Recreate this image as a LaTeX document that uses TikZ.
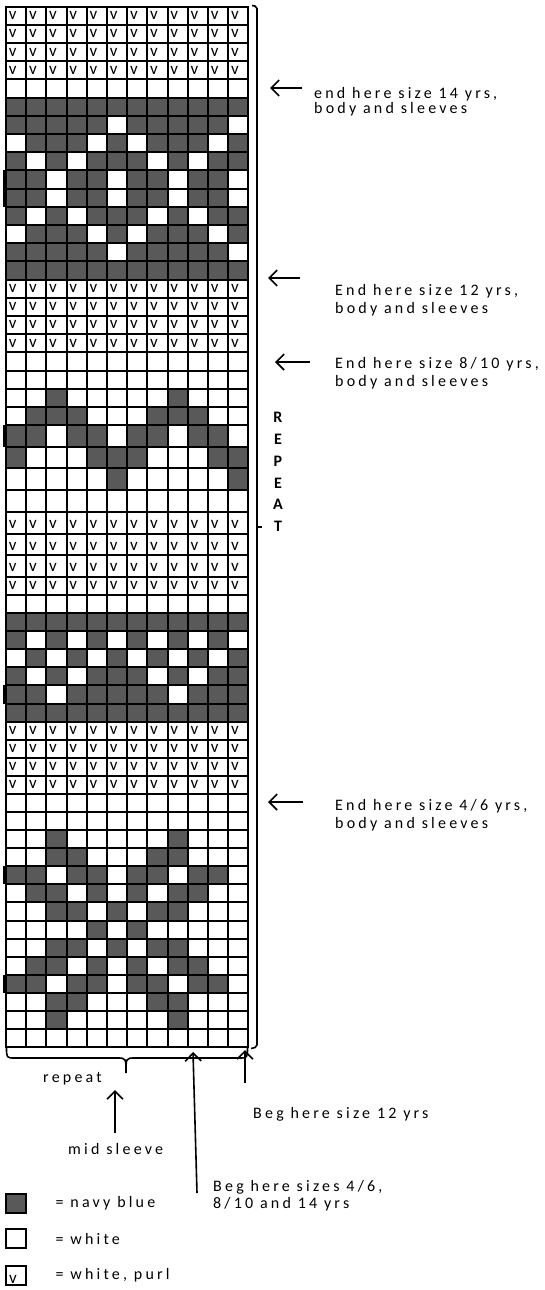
\documentclass[tikz,border=0pt]{standalone}
\usepackage{fontspec}
\setmainfont{Carlito}[LetterSpace=20]
\newfontfamily\stitchfont{Carlito}
\usepackage{tikz}
\usetikzlibrary{arrows.meta,positioning,calc}

\tikzset{
  navy/.style={fill=black!65},
  gridline/.style={line width=2pt,line cap=rect},
  arr/.style={line width=1.6pt,-{Straight Barb[length=8pt,width=16pt]}},
  lbl/.style={anchor=base west,inner sep=0pt,font=\fontsize{16}{18}\selectfont},
  keylbl/.style={inner sep=0pt,font=\fontsize{16}{18}\selectfont},
  purl/.style={anchor=base west,inner sep=0pt,font=\stitchfont\fontsize{17}{17}\selectfont},
  key/.style={draw,line width=2pt,minimum width=20pt,minimum height=19pt,inner sep=0pt},
  declare function={rowy(\r)=(\r<24 ? 6.7+(\r-1)*18.19 : (\r<31 ? 425+(\r-24)*21.71 : 577+(\r-31)*18.08));
    colx(\c)=6+(\c-1)*20.2;}
}

\begin{document}
\begin{tikzpicture}[x=1pt,y=-1pt]
  \useasboundingbox (0,0) rectangle (544,1290);
  % Navy stitches
  \foreach \r/\cs in {6/{1,...,12}, 7/{1,2,3,4,5,7,8,9,10,11}, 8/{2,3,4,6,8,9,10,12},
      9/{1,3,5,6,7,9,11,12}, 10/{1,2,4,5,7,8,10,11}, 11/{1,2,4,5,7,8,10,11},
      12/{1,3,5,6,7,9,11,12}, 13/{2,3,4,6,8,9,10,12}, 14/{1,2,3,4,5,7,8,9,10,11},
      15/{1,...,12}, 22/{3,9}, 23/{2,3,4,8,9,10}, 24/{1,2,4,5,7,8,10,11},
      25/{1,5,6,7,11,12}, 26/{6,12}, 33/{1,...,12}, 34/{1,3,5,7,9,11},
      35/{2,4,6,8,10,12}, 36/{1,3,5,6,7,9,11,12}, 37/{1,2,4,5,6,7,8,10,11,12},
      38/{1,...,12}, 45/{3,9}, 46/{3,4,8,9}, 47/{1,2,4,5,7,8,10,11},
      48/{2,3,5,7,9,10}, 49/{3,4,6,8,9}, 50/{5,7}, 51/{3,4,6,8,9},
      52/{2,3,5,7,9,10}, 53/{1,2,4,5,7,8,10,11}, 54/{3,4,8,9}, 55/{3,9}} {
    \foreach \c in \cs {
      \fill[navy] ({colx(\c)},{rowy(\r)}) rectangle ({colx(\c+1)},{rowy(\r+1)});
    }
  }
  % Purl rows
  \foreach \r in {1,2,3,4,16,17,18,19,28,29,30,31,39,40,41,42} {
    \foreach \c in {1,...,12} {
      \node[purl] (v-\r-\c) at ({colx(\c)+2.6},{rowy(\r+1)-5.2}) {v};
    }
  }
  % Grid
  \foreach \r in {1,...,57} {
    \draw[gridline] ({colx(1)},{rowy(\r)}) -- ({colx(13)},{rowy(\r)});
  }
  \foreach \c in {1,...,13} {
    \draw[gridline] ({colx(\c)},{rowy(1)}) -- ({colx(\c)},{rowy(57)});
  }
  \foreach \a/\b in {10/12, 24/25, 37/38, 47/48, 53/54} {
    \draw[line width=2.5pt] (4,{rowy(\a)}) -- (4,{rowy(\b)});
  }
  % Repeat bracket
  \draw[line width=1.6pt,rounded corners=2pt] (252,5.5) -- (257,6.5) -- (257,1047) -- (251,1048.5);
  \draw[line width=1.6pt] (257,527) -- (262,527);
  \node[inner sep=0pt,align=center,font=\bfseries\fontsize{16}{21.8}\selectfont] (rpt) at (278,472) {R\\E\\P\\E\\A\\T};
  % Size notes
  \coordinate (h14) at (270,88);
  \coordinate (t14) at (302,88);
  \draw[arr] (t14) -- (h14);
  \node[lbl] (end14) at (314,98) {end here size 14 yrs,};
  \node[lbl] (end14b) at ([yshift=-15pt]end14.base west) {body and sleeves};
  \coordinate (h12) at (268,278);
  \coordinate (t12) at (300,278);
  \draw[arr] (t12) -- (h12);
  \node[lbl] (end12) at (335,295) {End here size 12 yrs,};
  \node[lbl] (end12b) at ([yshift=-18pt]end12.base west) {body and sleeves};
  \coordinate (h810) at (275,362);
  \coordinate (t810) at (310,362);
  \draw[arr] (t810) -- (h810);
  \node[lbl] (end810) at (335,368) {End here size 8/10 yrs,};
  \node[lbl] (end810b) at ([yshift=-18pt]end810.base west) {body and sleeves};
  \coordinate (h46) at (268,802);
  \coordinate (t46) at (303,802);
  \draw[arr] (t46) -- (h46);
  \node[lbl] (end46) at (335,810) {End here size 4/6 yrs,};
  \node[lbl] (end46b) at ([yshift=-18pt]end46.base west) {body and sleeves};
  % Repeat brace
  \draw[line width=1.6pt] (6.5,1047) .. controls (6.5,1058) .. (15,1058) -- (117,1058)
    .. controls (126,1058) .. (126,1073) .. controls (126,1058) .. (135,1058) -- (239,1058)
    .. controls (247.5,1058) .. (247.5,1047);
  \node[lbl] (rep) at (43,1082) {repeat};
  % Start points
  \coordinate (ms) at (115,1133);
  \coordinate (msh) at (115,1090);
  \draw[arr] (ms) -- (msh);
  \node[lbl] (mid) at (68,1154) {mid sleeve};
  \coordinate (b46) at (197,1193);
  \coordinate (b46h) at (193,1052);
  \draw[arr] (b46) -- (b46h);
  \node[lbl] (beg46) at (213,1191) {Beg here sizes 4/6,};
  \node[lbl] (beg46b) at ([yshift=-17pt]beg46.base west) {8/10 and 14 yrs};
  \coordinate (b12) at (245,1083);
  \coordinate (b12h) at (245,1050);
  \draw[arr] (b12) -- (b12h);
  \node[lbl] (beg12) at (253,1118) {Beg here size 12 yrs};
  % Legend
  \node[key,navy] (keynavy) at (15.5,1203) {};
  \node[key] (keywhite) at (15.5,1238.5) {};
  \node[key] (keypurl) at (15.5,1275.5) {};
  \node[purl] (keyv) at ([xshift=4.5pt,yshift=3pt]keypurl.south west) {v};
  \node[keylbl,right=29pt of keynavy] (txtnavy) {= navy blue};
  \node[keylbl,right=29pt of keywhite] (txtwhite) {= white};
  \node[keylbl,right=29pt of keypurl] (txtpurl) {= white, purl};
\end{tikzpicture}
\end{document}
